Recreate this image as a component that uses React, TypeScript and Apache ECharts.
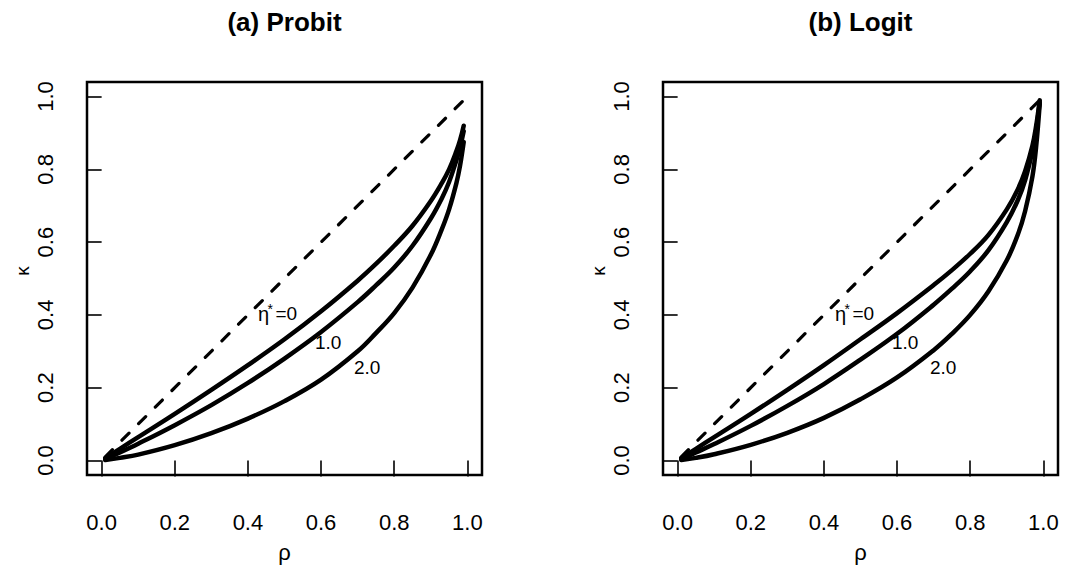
import React, { useEffect, useRef } from "react";
import * as echarts from "echarts";

const rho = [0.01, 0.05, 0.1, 0.2, 0.3, 0.4, 0.5, 0.6, 0.7, 0.75, 0.8, 0.85, 0.9, 0.93, 0.95, 0.97, 0.98, 0.99];

const probitEta0 = [0.006, 0.032, 0.064, 0.128, 0.194, 0.262, 0.333, 0.41, 0.494, 0.54, 0.59, 0.645, 0.713, 0.762, 0.8, 0.85, 0.88, 0.92];
const probitEta1 = [0.004, 0.022, 0.046, 0.097, 0.152, 0.213, 0.28, 0.353, 0.435, 0.481, 0.53, 0.59, 0.665, 0.72, 0.765, 0.825, 0.86, 0.905];
const probitEta2 = [0.001, 0.007, 0.016, 0.042, 0.075, 0.115, 0.163, 0.222, 0.3, 0.35, 0.405, 0.475, 0.565, 0.635, 0.69, 0.762, 0.81, 0.875];

const logitEta0 = [0.006, 0.032, 0.064, 0.128, 0.194, 0.262, 0.333, 0.405, 0.482, 0.523, 0.568, 0.62, 0.69, 0.745, 0.795, 0.865, 0.918, 0.99];
const logitEta1 = [0.004, 0.022, 0.045, 0.095, 0.15, 0.21, 0.277, 0.348, 0.428, 0.472, 0.52, 0.578, 0.655, 0.715, 0.77, 0.85, 0.905, 0.985];
const logitEta2 = [0.001, 0.007, 0.017, 0.043, 0.076, 0.117, 0.168, 0.228, 0.303, 0.348, 0.4, 0.465, 0.55, 0.62, 0.685, 0.78, 0.86, 0.98];

const diagX = [0.01, 0.99];
const diagY = [0.01, 0.99];

const tickValues = [0, 0.2, 0.4, 0.6, 0.8, 1.0];
const titles = ["(a) Probit", "(b) Logit"];
const curveLabels = ["1.0", "2.0"];

const FONT = "Liberation Sans, Arial, Helvetica, sans-serif";

function pairs(xs: number[], ys: number[]) {
  return xs.map((x, i) => [x, ys[i]]);
}

export default function App() {
  const ref = useRef<HTMLDivElement>(null);
  useEffect(() => {
    if (!ref.current) return;
    const chart = echarts.init(ref.current, undefined, { renderer: "svg" });

    const grids = [
      { left: 87, top: 82, width: 395, height: 393 },
      { left: 663, top: 82, width: 395, height: 393 },
    ];

    const xAxes = grids.map((_, i) => ({
      type: "value",
      gridIndex: i,
      min: -0.04,
      max: 1.04,
      axisLine: { show: false },
      axisTick: {
        show: true,
        length: 16,
        inside: false,
        customValues: tickValues,
        lineStyle: { color: "#000", width: 1.6 },
      },
      axisLabel: {
        show: true,
        customValues: tickValues,
        formatter: (v: number) => v.toFixed(1),
        fontSize: 22,
        fontFamily: FONT,
        color: "#000",
        margin: 36,
      },
      splitLine: { show: false },
    }));

    const yAxes = grids.map((_, i) => ({
      type: "value",
      gridIndex: i,
      min: -0.04,
      max: 1.04,
      axisLine: { show: false },
      axisTick: {
        show: true,
        length: 15,
        inside: false,
        customValues: tickValues,
        lineStyle: { color: "#000", width: 1.6 },
      },
      axisLabel: {
        show: true,
        customValues: tickValues,
        formatter: (v: number) => v.toFixed(1),
        rotate: 90,
        fontSize: 22,
        fontFamily: FONT,
        color: "#000",
        margin: 31,
      },
      splitLine: { show: false },
    }));

    const solid = (name: string, idx: number, ys: number[]) => ({
      name,
      type: "line",
      xAxisIndex: idx,
      yAxisIndex: idx,
      data: pairs(rho, ys),
      showSymbol: false,
      smooth: 0.4,
      lineStyle: { color: "#000", width: 4.5, cap: "round", join: "round" },
      silent: true,
    });
    const dashed = (idx: number) => ({
      name: "diag" + idx,
      type: "line",
      xAxisIndex: idx,
      yAxisIndex: idx,
      data: pairs(diagX, diagY),
      showSymbol: false,
      lineStyle: { color: "#000", width: 3.2, type: [10, 13.5], cap: "round" },
      silent: true,
    });

    const graphic: any[] = [];
    grids.forEach((g, i) => {
      const cx = g.left + g.width / 2;
      graphic.push({
        type: "text",
        x: cx,
        y: 22,
        style: {
          text: titles[i],
          font: `bold 26px ${FONT}`,
          fill: "#000",
          textAlign: "center",
          textVerticalAlign: "middle",
        },
      });
      graphic.push({
        type: "text",
        x: cx,
        y: 552,
        style: {
          text: "ρ",
          font: `22px ${FONT}`,
          fill: "#000",
          textAlign: "center",
          textVerticalAlign: "middle",
        },
      });
      graphic.push({
        type: "text",
        x: g.left - 65,
        y: 271,
        rotation: Math.PI / 2,
        style: {
          text: "κ",
          font: `19px ${FONT}`,
          fill: "#000",
          textAlign: "center",
          textVerticalAlign: "middle",
        },
      });
      const dx = g.left - 87;
      const ddx = i === 0 ? 0 : 577;
      graphic.push({
        type: "text",
        x: 258 + ddx,
        y: 314,
        style: { text: "η", font: `20px ${FONT}`, fill: "#000", textAlign: "left", textVerticalAlign: "middle" },
      });
      graphic.push({
        type: "text",
        x: 267.5 + ddx,
        y: 309,
        style: { text: "*", font: `14px ${FONT}`, fill: "#000", textAlign: "left", textVerticalAlign: "middle" },
      });
      graphic.push({
        type: "text",
        x: 275.5 + ddx,
        y: 313.5,
        style: { text: "=0", font: `19px ${FONT}`, fill: "#000", textAlign: "left", textVerticalAlign: "middle" },
      });
      graphic.push({
        type: "text",
        x: 315 + dx + (i === 0 ? 0 : 1),
        y: 342.5,
        style: { text: curveLabels[0], font: `19px ${FONT}`, fill: "#000", textAlign: "left", textVerticalAlign: "middle" },
      });
      graphic.push({
        type: "text",
        x: 354 + dx,
        y: 367.5,
        style: { text: curveLabels[1], font: `19px ${FONT}`, fill: "#000", textAlign: "left", textVerticalAlign: "middle" },
      });
    });

    chart.setOption({
      animation: false,
      backgroundColor: "#fff",
      grid: grids.map((g) => ({
        ...g,
        show: true,
        borderColor: "#000",
        borderWidth: 2.5,
        backgroundColor: "transparent",
        containLabel: false,
      })),
      xAxis: xAxes,
      yAxis: yAxes,
      series: [
        dashed(0),
        solid("p0", 0, probitEta0),
        solid("p1", 0, probitEta1),
        solid("p2", 0, probitEta2),
        dashed(1),
        solid("l0", 1, logitEta0),
        solid("l1", 1, logitEta1),
        solid("l2", 1, logitEta2),
      ],
      graphic,
    });
    return () => chart.dispose();
  }, []);
  return (
    <div
      ref={ref}
      style={{ position: "fixed", left: 0, top: 0, width: 1067, height: 567, background: "#fff" }}
    />
  );
}
